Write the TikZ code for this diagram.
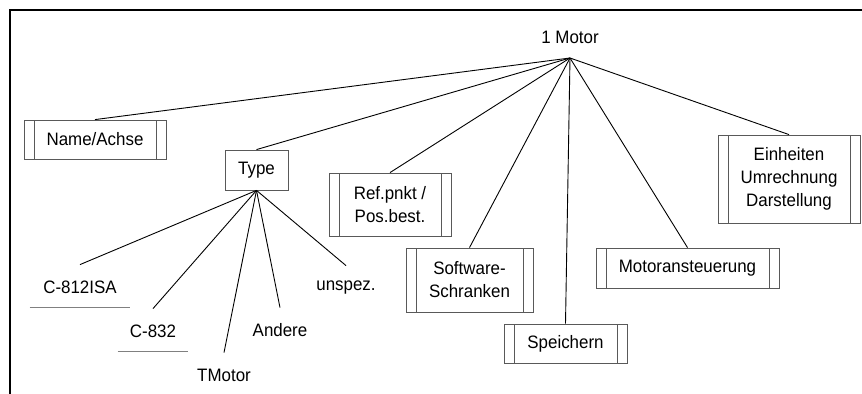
\documentclass[tikz,border=0pt]{standalone}
\usepackage{fontspec}
\setmainfont[FakeStretch=0.94]{Liberation Sans}
\usepackage{xcolor}
\usetikzlibrary{positioning}

\definecolor{boxline}{gray}{0.35}
\definecolor{ulline}{gray}{0.5}

\begin{document}
\begin{tikzpicture}[
  x=0.5pt, y=-0.5pt,
  font=\fontsize{9}{11.5}\selectfont,
  proc/.style={
    draw=boxline,
    align=center,
    inner sep=0pt,
    path picture={
      \draw[boxline]
        ([xshift=5pt]path picture bounding box.south west) -- ([xshift=5pt]path picture bounding box.north west)
        ([xshift=-5pt]path picture bounding box.south east) -- ([xshift=-5pt]path picture bounding box.north east);
    }
  },
  plain/.style={
    draw=boxline,
    inner sep=0pt,
    minimum width=31.5pt,
    minimum height=20pt
  },
  leaf/.style={
    inner sep=0pt,
    minimum height=22pt
  },
  link/.style={black, line width=0.45pt}
]

\useasboundingbox (0,0) rectangle (862,394);

% Frame
\draw[line width=1pt] (10,394) -- (10,10) -- (862,10);

% Root
\node (motor) at (570,37) {1 Motor};
\coordinate (hub) at (570,58);

% Modules
\node[proc, minimum width=71pt, minimum height=19.5pt] (name) at (95,139.5) {Name/Achse};
\node[plain] (type) at (256.5,170) {Type};
\node[proc, minimum width=61pt, minimum height=31.5pt] (ref) at (390,204.5) {Ref.pnkt /\\Pos.best.};
\node[proc, minimum width=63.5pt, minimum height=32pt] (soft) at (469.5,280) {Software-\\Schranken};
\node[proc, minimum width=61.5pt, minimum height=19.5pt] (save) at (565.5,343.5) {Speichern};
\node[proc, minimum width=91.5pt, minimum height=20pt] (drive) at (687.5,268) {Motoransteuerung};
\node[proc, minimum width=71pt, minimum height=44pt] (units) at (789,179) {Einheiten\\Umrechnung\\Darstellung};

% Motor types
\node[leaf, minimum width=50pt] (c812) at (80,287) {C-812ISA};
\node[leaf, minimum width=35pt] (c832) at (153,331) {C-832};
\node[leaf] (tmotor) at (224,375) {TMotor};
\node[leaf] (other) at (280,330) {Andere};
\node[leaf] (unspec) at (346,288) {unspez.};

\draw[ulline] ([yshift=1pt]c812.south west) -- ([yshift=1pt]c812.south east);
\draw[ulline] ([yshift=1pt]c832.south west) -- ([yshift=1pt]c832.south east);

% Connectors
\foreach \n in {name,type,ref,soft,save,drive,units}
  \draw[link] (hub) -- (\n.north);

\foreach \n in {c812,c832,tmotor,other,unspec}
  \draw[link] (type.south) -- (\n.north);

\end{tikzpicture}
\end{document}
